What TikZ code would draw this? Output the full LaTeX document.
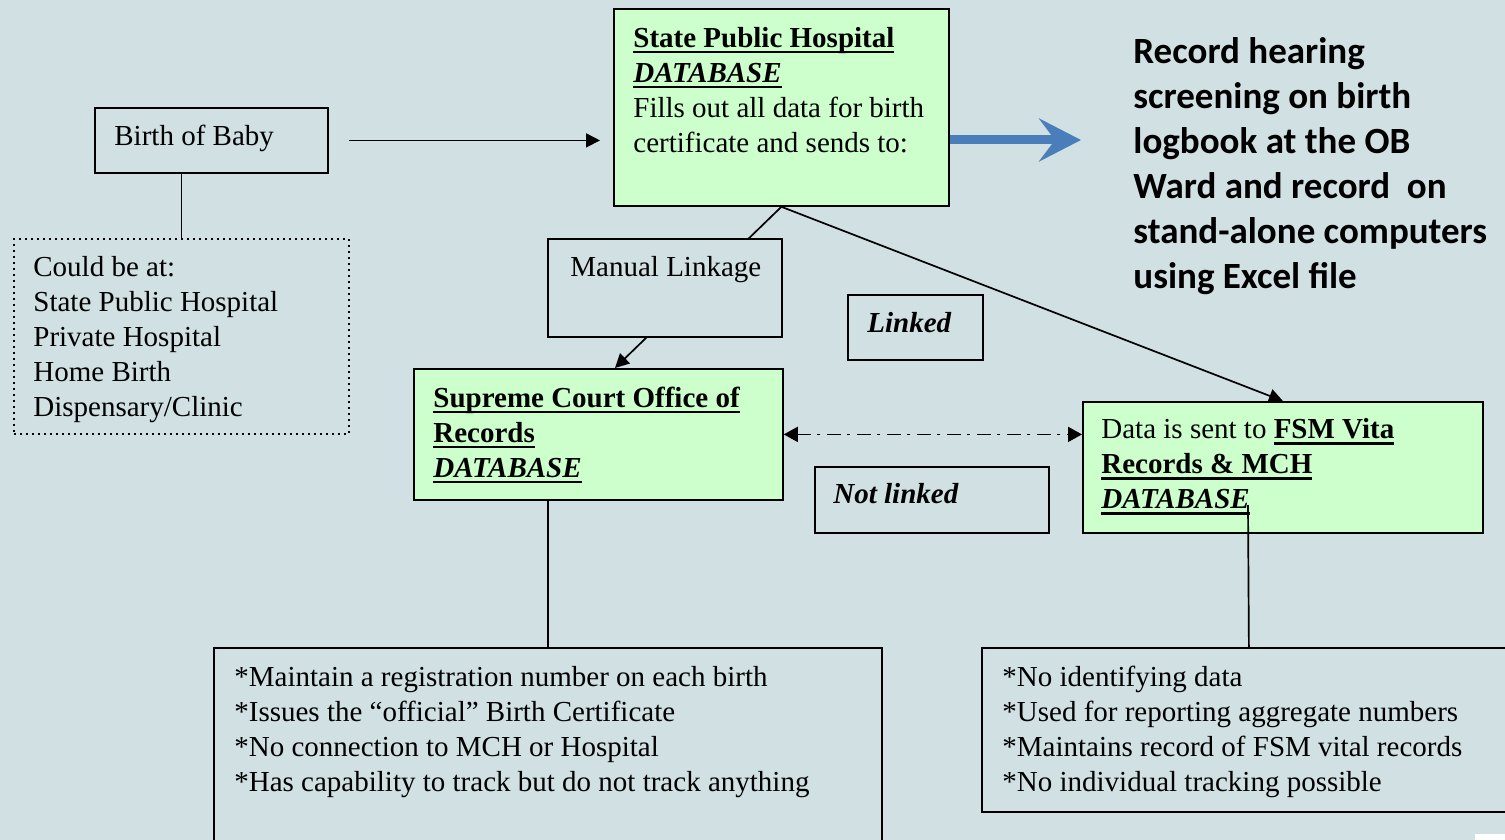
\documentclass[tikz,border=0pt]{standalone}
\usepackage{fontspec}
\setmainfont{Liberation Serif}
\newfontfamily\calib{Carlito}
\usetikzlibrary{arrows.meta}
\definecolor{bg}{RGB}{208,224,227}
\definecolor{boxgreen}{RGB}{204,255,204}
\definecolor{arrowblue}{RGB}{74,126,187}
\newsavebox{\myulbox}
\newcommand\myul[1]{\sbox{\myulbox}{#1}\rlap{\rule[-3.1pt]{\wd\myulbox}{1.1pt}}\usebox{\myulbox}}
\newcommand\ub[1]{\myul{\textbf{#1}}}
\newcommand\ubi[1]{\myul{\textbf{\textit{#1}}}}
\begin{document}
\begin{tikzpicture}[x=0.5pt,y=-0.5pt,
  box/.style={draw, line width=0.9pt, rectangle, inner sep=0pt, anchor=north west},
  gbox/.style={box, fill=boxgreen},
  bgbox/.style={box, fill=bg},
  dotbox/.style={box, line width=0.9pt, dash pattern=on 0.9pt off 2.1pt},
  txt/.style={anchor=north west, inner sep=0pt, align=left, font=\fontsize{14.5}{17.5}\selectfont},
  conn/.style={line width=0.85pt},
  arr/.style={conn, -{Triangle[length=7pt,width=7pt]}},
  dashdotarr/.style={line width=0.9pt, {Triangle[length=7pt,width=7.5pt]}-{Triangle[length=7pt,width=7.5pt]}, dash pattern=on 7pt off 3pt on 1.5pt off 3.5pt},
  bluearr/.style={draw=arrowblue, line width=4.5pt, -{Stealth[length=21pt,width=21.5pt,inset=8pt]}},
]
\fill[bg] (0,0) rectangle (1505,840);
\useasboundingbox (0,0) rectangle (1505,840);
\clip (0,0) rectangle (1505,840);
\fill[white] (1475,834) rectangle (1505,840);

% boxes
\node[box, minimum width=116.5pt, minimum height=32.5pt] (birth) at (94,107) {};
\node[dotbox, minimum width=167.5pt, minimum height=97.5pt] (dotted) at (13,238) {};
\node[gbox, minimum width=167.5pt, minimum height=98.5pt] (sph) at (613,8) {};
\node[gbox, minimum width=184.5pt, minimum height=65.5pt] (scor) at (413,368) {};
\node[gbox, minimum width=200pt, minimum height=65.5pt] (fsm) at (1082,401) {};
\node[box, minimum width=67.5pt, minimum height=32.5pt] (link) at (847,294) {};
\node[box, minimum width=117pt, minimum height=33pt] (notl) at (814,466) {};
\node[box, minimum width=334pt, minimum height=110pt] (bl) at (213,647) {};
\node[box, minimum width=267pt, minimum height=82pt] (br) at (981,647) {};

% connectors
\draw[arr] ([xshift=10pt]birth.east) -- ([xshift=-6.5pt]birth.east -| sph.west);
\draw[conn] (birth.south -| dotted.north) -- (dotted.north);
\coordinate (bluetip) at (1081,140);
\draw[bluearr] (sph.east |- bluetip) -- (bluetip);
\draw[arr] (sph.south) -- ([xshift=101pt]scor.north west);
\draw[arr] (sph.south) -- (fsm.north);
\draw[dashdotarr] (scor.east) -- (scor.east -| fsm.west);
\draw[conn] (scor.south -| bl.north) -- (bl.north);
\coordinate (fsmin) at (1248,505);
\draw[conn] (fsmin) -- (br.north);

% manual linkage box covers the line behind it
\node[bgbox, minimum width=117pt, minimum height=49pt] (man) at (547,238) {};

% texts
\node[txt] (birthtxt) at (114,120.5) {\strut Birth of Baby};
\node[txt] (dottxt) at (33,251.5) {\strut Could be at:\\ State Public Hospital\\ Private Hospital\\ Home Birth\\ Dispensary/Clinic};
\node[txt] (sphtxt) at (633,22.2) {\strut\ub{State Public Hospital}\\ \ubi{DATABASE}\\ Fills out all data for birth\\ certificate and sends to:};
\node[txt] (mantxt) at (570,251.5) {\strut Manual Linkage};
\node[txt] (linktxt) at (867,307.5) {\strut\textbf{\textit{Linked}}};
\node[txt] (scortxt) at (433,382.2) {\strut\ub{Supreme Court Office of}\\ \ub{Records}\\ \ubi{DATABASE}};
\node[txt] (nottxt) at (833,478.5) {\strut\textbf{\textit{Not linked}}};
\node[txt] (fsmtxt) at (1101,413.5) {\strut Data is sent to \ub{FSM Vita}\\ \ub{Records \& MCH}\\ \ubi{DATABASE}};
\node[txt] (bltxt) at (234,661.5) {\strut *Maintain a registration number on each birth\\ *Issues the “official” Birth Certificate\\ *No connection to MCH or Hospital\\ *Has capability to track but do not track anything};
\node[txt] (brtxt) at (1002,661.5) {\strut *No identifying data\\ *Used for reporting aggregate numbers\\ *Maintains record of FSM vital records\\ *No individual tracking possible};
\node[anchor=north west, inner sep=0pt, align=left, font=\calib\bfseries\fontsize{18.5}{22.5}\selectfont] (note) at (1133,31.5) {\strut Record hearing\\ screening on birth\\ logbook at the OB\\ Ward and record\ \ on\\ stand-alone computers\\ using Excel file};
\end{tikzpicture}
\end{document}
